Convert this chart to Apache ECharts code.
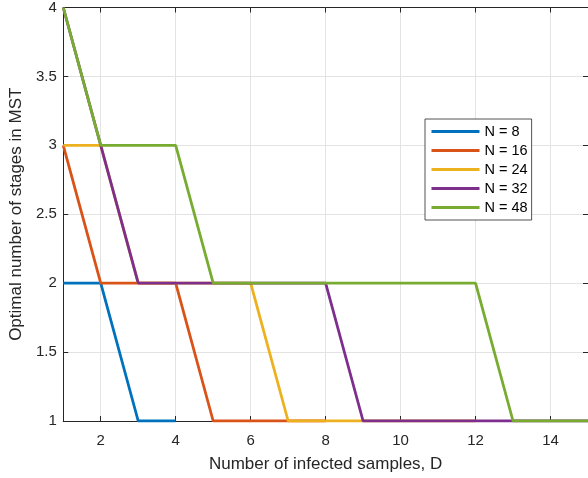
<!DOCTYPE html>
<html>
<head>
<meta charset="utf-8">
<script src="https://cdn.jsdelivr.net/npm/echarts@6/dist/echarts.min.js"></script>
<style>
html,body{margin:0;padding:0;background:#fff;}
#chart{width:588px;height:478px;}
</style>
</head>
<body>
<div id="chart"></div>
<script>
const D = [1,2,3,4,5,6,7,8,9,10,11,12,13,14,15];
const seriesNames = ['N = 8','N = 16','N = 24','N = 32','N = 48'];
const n8  = [2,2,1,1];
const n16 = [3,2,2,2,1,1,1,1];
const n24 = [3,3,2,2,2,2,1,1,1,1,1,1];
const n32 = [4,3,2,2,2,2,2,2,1,1,1,1,1,1,1];
const n48 = [4,3,3,3,2,2,2,2,2,2,2,2,1,1,1];
const xTicks = [2,4,6,8,10,12,14];
const colors = ['#0072BD','#D95319','#EDB120','#7E2F8E','#77AC30'];

const allValues = [n8,n16,n24,n32,n48];
const font = "'Liberation Sans', Helvetica, Arial, sans-serif";
const txt = '#262626';

const chart = echarts.init(document.getElementById('chart'), null, {renderer:'canvas'});
const series = allValues.map((vals,i)=>({
  name: seriesNames[i],
  type: 'line',
  data: vals.map((v,k)=>[D[k], v]),
  symbol: 'none',
  lineStyle: {width: 2.8, color: colors[i]},
  itemStyle: {color: colors[i]},
  xAxisIndex: 0, yAxisIndex: 0,
  z: 3 + i,
  animation: false
}));

chart.setOption({
  animation: false,
  color: colors,
  grid: {left: 62.3, top: 5.7, width: 527.4, height: 416.3, containLabel: false},
  legend: {
    data: seriesNames,
    orient: 'vertical',
    left: 425, top: 119,
    padding: [5, 4, 5, 5],
    itemGap: 4,
    itemWidth: 48, itemHeight: 14,
    itemStyle: {opacity: 0},
    lineStyle: {width: 3},
    backgroundColor: '#fff',
    borderColor: '#262626', borderWidth: 0.8, borderRadius: 0,
    textStyle: {fontFamily: font, fontSize: 14.5, color: '#000'},
    selectedMode: false
  },
  xAxis: [{
    type: 'value', min: 1, max: 15, position: 'bottom',
    name: 'Number of infected samples, D', nameLocation: 'middle', nameGap: 35,
    nameTextStyle: {fontFamily: font, fontSize: 17, color: txt},
    axisLine: {show: true, onZero: false, lineStyle: {color: txt, width: 1}},
    axisTick: {show: true, inside: true, length: 5, customValues: xTicks, lineStyle: {color: txt}},
    axisLabel: {customValues: xTicks, fontFamily: font, fontSize: 15, color: txt, margin: 12.5},
    splitLine: {show: true, lineStyle: {color: '#e3e3e3', width: 1}}
  },{
    type: 'value', min: 1, max: 15, position: 'top',
    axisLine: {show: true, onZero: false, lineStyle: {color: txt, width: 1}},
    axisTick: {show: true, inside: true, length: 5, customValues: xTicks, lineStyle: {color: txt}},
    axisLabel: {show: false},
    splitLine: {show: false}
  }],
  yAxis: [{
    type: 'value', min: 1, max: 4, interval: 0.5, position: 'left',
    name: 'Optimal number of stages in MST', nameLocation: 'middle', nameGap: 31,
    nameTextStyle: {fontFamily: font, fontSize: 17, color: txt},
    axisLine: {show: true, onZero: false, lineStyle: {color: txt, width: 1}},
    axisTick: {show: true, inside: true, length: 5, lineStyle: {color: txt}},
    axisLabel: {fontFamily: font, fontSize: 15, color: txt, margin: 6.5},
    splitLine: {show: true, lineStyle: {color: '#e3e3e3', width: 1}}
  },{
    type: 'value', min: 1, max: 4, interval: 0.5, position: 'right',
    axisLine: {show: true, onZero: false, lineStyle: {color: txt, width: 1}},
    axisTick: {show: true, inside: true, length: 5, lineStyle: {color: txt}},
    axisLabel: {show: false},
    splitLine: {show: false}
  }],
  series: series
});
</script>
</body>
</html>
